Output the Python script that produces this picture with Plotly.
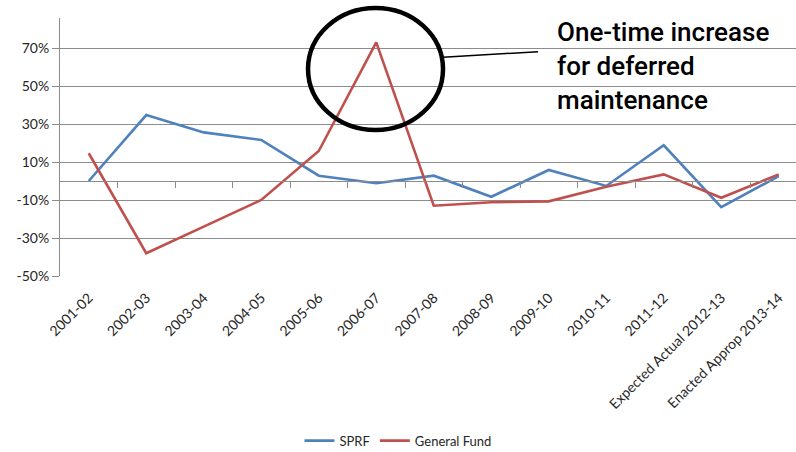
import plotly.graph_objects as go

# Fiscal years on the category axis
years = [
    "2001-02", "2002-03", "2003-04", "2004-05", "2005-06", "2006-07",
    "2007-08", "2008-09", "2009-10", "2010-11", "2011-12",
    "Expected Actual 2012-13", "Enacted Approp 2013-14",
]

# Year-over-year change, in percent
sprf = [0.0, 34.7, 25.6, 21.6, 2.8, -1.2, 2.8, -8.3, 5.8, -2.6, 18.8, -13.8, 2.6]
general_fund = [14.6, -38.0, -24.0, -10.0, 15.8, 73.0, -13.0, -11.2, -10.7, -3.0, 3.5, -8.8, 3.5]

y_ticks = [-50, -30, -10, 10, 30, 50, 70]
y_tick_text = [f"{v}%" for v in y_ticks]

note_text = "One-time increase<br>for deferred<br>maintenance"

BLUE = "#4F81BD"
RED = "#C0504D"
GRID = "#8C8C8C"
TEXT = "#262626"
LABEL_FONT = "Lato"

x_idx = list(range(len(years)))

fig = go.Figure()
fig.add_trace(go.Scatter(
    x=x_idx, y=sprf, mode="lines", name="SPRF",
    line=dict(color=BLUE, width=2.6),
))
fig.add_trace(go.Scatter(
    x=x_idx, y=general_fund, mode="lines", name="General Fund",
    line=dict(color=RED, width=2.6),
))

# Horizontal axis crossing at zero with tick marks between categories
fig.add_trace(go.Scatter(x=[None], y=[None], xaxis="x2", showlegend=False,
                         hoverinfo="skip"))

y_min, y_max = -50, 85.8

fig.update_layout(
    width=796, height=452,
    margin=dict(l=60, r=0, t=18, b=176),
    paper_bgcolor="white", plot_bgcolor="white",
    font=dict(family=LABEL_FONT, size=13, color=TEXT),
    xaxis=dict(
        range=[-0.5, 12.3],
        tickvals=x_idx, ticktext=years, tickangle=-45,
        showgrid=False, zeroline=False, showline=False, ticks="",
        ticklabelstandoff=10,
        tickfont=dict(family=LABEL_FONT, size=14, color=TEXT),
    ),
    xaxis2=dict(
        overlaying="x", anchor="free", position=(0 - y_min) / (y_max - y_min),
        side="bottom",
        range=[-0.5, 12.3],
        tickvals=[i + 0.5 for i in x_idx[:-1]],
        showticklabels=False, ticks="outside", ticklen=6, tickcolor=GRID,
        showline=True, linecolor=GRID, linewidth=1,
        showgrid=False, zeroline=False,
    ),
    yaxis=dict(
        range=[y_min, y_max], domain=[0, 1],
        tickvals=y_ticks, ticktext=y_tick_text,
        showgrid=True, gridcolor=GRID, gridwidth=1,
        zeroline=False,
        showline=True, linecolor=GRID, linewidth=1,
        ticks="outside", ticklen=7, tickcolor=GRID,
        tickfont=dict(family=LABEL_FONT, size=14, color=TEXT),
    ),
    legend=dict(
        orientation="h", xref="container", yref="container",
        x=0.5, xanchor="center", y=0.025, yanchor="middle",
        font=dict(family=LABEL_FONT, size=13, color=TEXT),
        itemwidth=30,
    ),
    showlegend=True,
)

# Callout: ellipse around the 2006-07 spike, a leader line and the note
fig.add_shape(
    type="circle", xref="paper", yref="paper",
    x0=0.337, x1=0.5204, y0=0.5659, y1=1.0388,
    line=dict(color="black", width=4.5),
)
fig.add_shape(
    type="line", xref="paper", yref="paper",
    x0=0.5204, y0=0.8477, x1=0.6495, y1=0.8694,
    line=dict(color="black", width=1.5),
)
fig.add_annotation(
    xref="paper", yref="paper", x=0.672, y=1.01,
    xanchor="left", yanchor="top", align="left",
    text=note_text, showarrow=False,
    font=dict(family="Roboto", size=26, color="black", weight=500),
)

fig.write_html("out.html")
